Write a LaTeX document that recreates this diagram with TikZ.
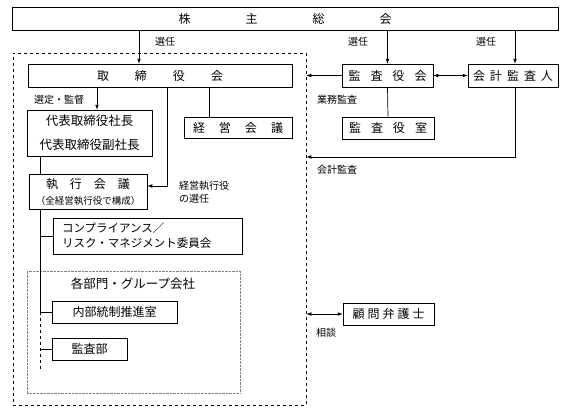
\documentclass[tikz,border=0pt]{standalone}
\usepackage{fontspec}
\setmainfont{Noto Sans CJK JP}
\usepackage{tikz}
\usetikzlibrary{arrows,calc,positioning}

\tikzset{
  box/.style={draw,line width=0.7pt,inner sep=0pt,font=\fontsize{12}{14}\selectfont},
  lbl/.style={inner sep=0pt,font=\fontsize{10}{12}\selectfont},
  link/.style={line width=0.7pt},
}

\begin{document}
\begin{tikzpicture}[x=1pt,y=-1pt,>=latex]
  \useasboundingbox (0,0) rectangle (567,412);

  % outer groups
  \node[draw,dashed,line width=0.7pt,minimum width=293pt,minimum height=352pt] (grp)   at (159.5,229)   {};
  \node[draw,densely dotted,gray,minimum width=213pt,minimum height=122pt]     (dept)  at (133.5,332)   {};

  % boxes
  \node[box,minimum width=546pt,minimum height=23pt] (sh)      at (285,18.5)  {株\hspace{55pt}主\hspace{55pt}総\hspace{55pt}会};
  \node[box,minimum width=264pt,minimum height=23pt] (tb)      at (160,75.5)  {取\hspace{26pt}締\hspace{26pt}役\hspace{26pt}会};
  \node[box,minimum width=91pt,minimum height=23pt]  (kansa)   at (387.5,75.5) {監\hspace{10pt}査\hspace{10pt}役\hspace{10pt}会};
  \node[box,minimum width=90pt,minimum height=23pt]  (kaikei)  at (513,75.5)  {会\hspace{5pt}計\hspace{5pt}監\hspace{5pt}査\hspace{5pt}人};
  \node[box,minimum width=92pt,minimum height=22pt]  (kshitsu) at (388,128)   {監\hspace{10pt}査\hspace{10pt}役\hspace{10pt}室};
  \node[box,minimum width=108pt,minimum height=21pt] (keiei)   at (238,127.5) {経\hspace{14pt}営\hspace{14pt}会\hspace{14pt}議};
  \node[box,minimum width=125pt,minimum height=46pt,align=center,font=\fontsize{12.5}{24}\selectfont] (daihyo) at (89.5,133) {代表取締役社長\\代表取締役副社長};
  \node[box,minimum width=118pt,minimum height=35pt,align=center,font=\fontsize{12}{16}\selectfont] (shikko) at (88,191.5)
       {執\hspace{12pt}行\hspace{12pt}会\hspace{12pt}議\\{\fontsize{9.5}{12}\selectfont （全経営執行役で構成）}};
  \node[box,text width=171pt,inner xsep=9pt,minimum height=36pt,align=left,font=\fontsize{11.5}{15}\selectfont] (comp) at (147.5,236)
       {コンプライアンス／\\リスク・マネジメント委員会};
  \node[box,minimum width=125pt,minimum height=22pt] (naibu)   at (114.5,312) {内部統制推進室};
  \node[box,minimum width=75pt,minimum height=22pt]  (kansabu) at (89.5,349)  {監査部};
  \node[box,minimum width=91pt,minimum height=22pt]  (komon)   at (388.5,314) {顧\hspace{3pt}問\hspace{3pt}弁\hspace{3pt}護\hspace{3pt}士};

  % labels
  \node[lbl] (sen1)  at (165,42)  {選任};
  \node[lbl] (sen2)  at (358,42)  {選任};
  \node[lbl] (sen3)  at (486,42)  {選任};
  \node[lbl] (kan)   at (59,100)  {選定・監督};
  \node[lbl] (gyomu) at (337,100) {業務監査};
  \node[lbl] (kkan)  at (337,170) {会計監査};
  \node[lbl,align=left,anchor=west,font=\fontsize{10}{13}\selectfont] (shin) at (179,192) {経営執行役\\の選任};
  \node[lbl] (sodan) at (326,333) {相談};
  \node[lbl,font=\fontsize{12.5}{14}\selectfont] (bumon) at (133,284) {各部門・グループ会社};

  % turning points
  \coordinate (a1) at (139,0);
  \coordinate (a2) at (97,0);
  \coordinate (a3) at (209,0);
  \coordinate (tr) at (167,186);
  \coordinate (kr) at (515,157);
  \coordinate (sp) at (40,0);
  \coordinate (spend) at (40,372);

  \path[link,->] (sh.south -| a1)     edge (tb.north -| a1)
                 (sh.south -| kansa)  edge (kansa.north)
                 (sh.south -| kr)     edge (kaikei.north -| kr)
                 (kansa.west)         edge (kansa.west -| grp.east)
                 (tb.south -| a2)     edge (daihyo.north -| a2);
  \path[link,<->] (kansa.east)        edge (kaikei.west)
                  (komon.west)        edge (komon.west -| grp.east);

  \draw[link,->] (tb.south -| tr) -- (tr) -- (tr -| shikko.east);
  \draw[link,->] (kaikei.south -| kr) -- (kr) -- (kr -| grp.east);
  \draw[link] (tb.south -| a3) -- (keiei.north -| a3);
  \draw[link] (kansa.south) -- (kshitsu.north);

  \draw[link] (daihyo.south -| sp) -- (shikko.north -| sp);
  \draw[link] (shikko.south -| sp) |- (naibu.west);
  \draw[link] (sp |- comp.west) -- (comp.west);
  \draw[link,dashed] (sp |- naibu.west) -- (spend);
  \draw[link] (sp |- kansabu.west) -- (kansabu.west);
\end{tikzpicture}
\end{document}
